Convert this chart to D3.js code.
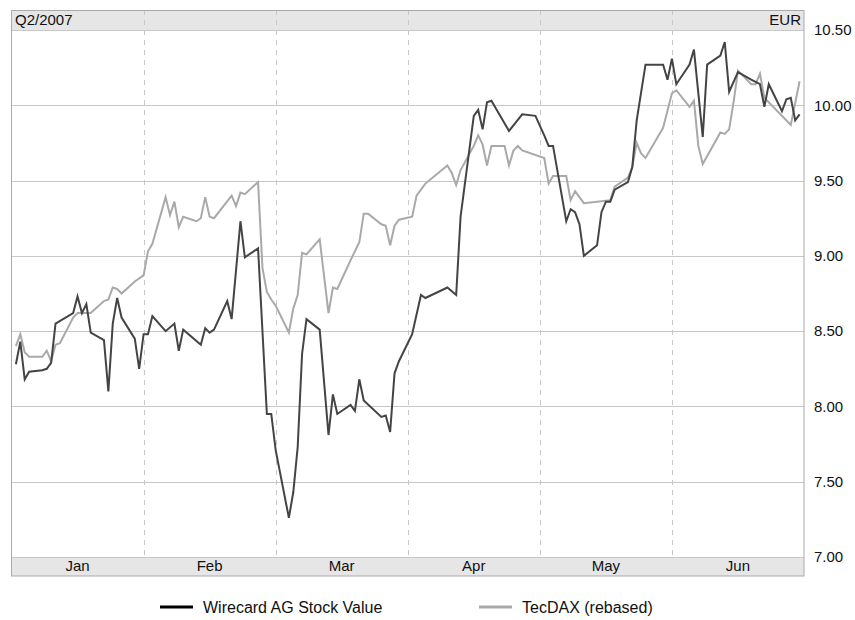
<!DOCTYPE html>
<html>
<head>
<meta charset="utf-8">
<script src="https://cdn.jsdelivr.net/npm/d3@7"></script>
<style>
  body { margin: 0; background: #fff; }
  svg { font-family: "Liberation Sans", Arial, sans-serif; }
</style>
</head>
<body>
<svg id="chart" width="855" height="620"></svg>
<script>
"use strict";

// month bands along the bottom
var months = ["Jan", "Feb", "Mar", "Apr", "May", "Jun"];
var yTicks = [7.0, 7.5, 8.0, 8.5, 9.0, 9.5, 10.0, 10.5];

// Wirecard AG (EUR)
var wirecardDates = ["01-02","01-03","01-04","01-05","01-08","01-09","01-10","01-11","01-15","01-16",
  "01-17","01-18","01-19","01-22","01-23","01-24","01-25","01-26","01-29","01-30","01-31",
  "02-01","02-02","02-05","02-07","02-08","02-09","02-13","02-14","02-15","02-16","02-19","02-20",
  "02-22","02-23","02-26","02-28","03-01","03-02","03-05","03-06","03-07","03-08","03-09","03-12",
  "03-14","03-15","03-16","03-19","03-20","03-21","03-22","03-26","03-27","03-28","03-29","03-30",
  "04-02","04-04","04-05","04-10","04-12","04-13","04-16","04-17","04-18","04-19","04-20","04-24",
  "04-27","04-30","05-02","05-03","05-04","05-07","05-08","05-09","05-10","05-11","05-14","05-15",
  "05-16","05-17","05-18","05-21","05-22","05-23","05-25","05-29","05-30","05-31","06-01","06-04",
  "06-05","06-07","06-08","06-11","06-12","06-13","06-15","06-18","06-20","06-21","06-22","06-25",
  "06-26","06-27","06-28","06-29"];
var wirecardValues = [8.28,8.43,8.18,8.23,8.24,8.25,8.29,8.55,8.62,8.73,
  8.62,8.68,8.49,8.44,8.10,8.55,8.72,8.59,8.45,8.25,8.48,
  8.48,8.60,8.50,8.55,8.37,8.51,8.41,8.52,8.49,8.51,8.70,8.58,
  9.23,8.99,9.05,7.95,7.95,7.71,7.26,7.43,7.73,8.35,8.58,8.51,
  7.81,8.08,7.95,8.01,7.97,8.18,8.04,7.93,7.94,7.83,8.22,8.30,
  8.48,8.74,8.72,8.79,8.74,9.26,9.93,9.97,9.84,10.02,10.03,9.83,
  9.94,9.93,9.80,9.73,9.73,9.23,9.31,9.29,9.21,9.00,9.07,9.29,
  9.36,9.36,9.44,9.49,9.59,9.90,10.27,10.27,10.17,10.31,10.14,10.27,
  10.37,9.79,10.27,10.33,10.42,10.09,10.22,10.17,10.14,9.99,10.14,9.96,
  10.04,10.05,9.90,9.94];

// TecDAX rebased to the Wirecard price
var tecdaxDates = ["01-02","01-03","01-04","01-05","01-08","01-09","01-10","01-11","01-12","01-15",
  "01-16","01-17","01-19","01-22","01-23","01-24","01-25","01-26","01-29","01-31",
  "02-01","02-02","02-05","02-06","02-07","02-08","02-09","02-12","02-13","02-14","02-15","02-16",
  "02-20","02-21","02-22","02-23","02-26","02-27","02-28","03-01","03-02","03-05","03-06","03-07",
  "03-08","03-09","03-12","03-14","03-15","03-16","03-19","03-21","03-22","03-23","03-26","03-27",
  "03-28","03-29","03-30","04-02","04-03","04-05","04-10","04-11","04-12","04-13","04-16","04-17",
  "04-18","04-19","04-20","04-23","04-24","04-25","04-26","04-27","05-02","05-03","05-04","05-07",
  "05-08","05-09","05-11","05-14","05-17","05-18","05-21","05-22","05-23","05-24","05-25","05-29",
  "05-31","06-01","06-04","06-05","06-06","06-07","06-11","06-12","06-13","06-14","06-15","06-18",
  "06-19","06-20","06-21","06-27","06-29"];
var tecdaxValues = [8.40,8.48,8.36,8.33,8.33,8.37,8.30,8.41,8.42,8.59,
  8.62,8.62,8.62,8.70,8.71,8.79,8.78,8.75,8.83,8.87,
  9.03,9.08,9.39,9.27,9.36,9.19,9.26,9.23,9.25,9.39,9.26,9.25,
  9.40,9.33,9.42,9.41,9.49,8.92,8.76,8.71,8.67,8.49,8.65,8.74,
  9.02,9.01,9.11,8.62,8.79,8.78,8.97,9.09,9.28,9.28,9.21,9.20,
  9.07,9.20,9.24,9.26,9.40,9.48,9.60,9.55,9.47,9.57,9.73,9.80,
  9.74,9.60,9.73,9.73,9.60,9.70,9.73,9.70,9.65,9.48,9.53,9.53,
  9.37,9.43,9.35,9.36,9.37,9.46,9.52,9.59,9.75,9.68,9.65,9.85,
  10.08,10.10,9.99,10.03,9.73,9.61,9.82,9.81,9.84,10.02,10.23,10.14,
  10.14,10.21,10.05,9.87,10.16];

var seriesNames = ["Wirecard AG Stock Value", "TecDAX (rebased)"];
var seriesColors = ["#444444", "#a9a9a9"];
var legendColors = ["#000000", "#a9a9a9"];

function drawChart() {
  var parseDate = d3.timeParse("%Y-%m-%d");
  function toPoints(dates, values) {
    return dates.map(function (d, i) {
      return { date: parseDate("2007-" + d), value: values[i] };
    });
  }
  var wirecard = toPoints(wirecardDates, wirecardValues);
  var tecdax = toPoints(tecdaxDates, tecdaxValues);

  var left = 11.5, right = 804, frameTop = 10, headBottom = 30, plotBottom = 557, frameBottom = 576;

  var svg = d3.select("#chart");

  var x = d3.scaleTime()
    .domain([parseDate("2007-01-01"), parseDate("2007-06-30")])
    .range([left, right]);
  var y = d3.scaleLinear().domain([7, 10.5]).range([plotBottom, headBottom]);
  var monthBand = d3.scaleBand().domain(months).range([left, right]);

  // header and footer bands
  svg.append("rect")
    .attr("x", left).attr("y", frameTop)
    .attr("width", right - left).attr("height", headBottom - frameTop)
    .style("fill", "#e6e6e6");
  svg.append("rect")
    .attr("x", left).attr("y", plotBottom)
    .attr("width", right - left).attr("height", frameBottom - plotBottom)
    .style("fill", "#e6e6e6");

  // horizontal grid
  svg.append("g").selectAll("line")
    .data(yTicks)
    .enter().append("line")
    .attr("x1", left).attr("x2", right)
    .attr("y1", function (d) { return Math.round(y(d)) + 0.5; })
    .attr("y2", function (d) { return Math.round(y(d)) + 0.5; })
    .style("stroke", "#c8c8c8")
    .style("stroke-width", 1);

  // dashed month separators
  svg.append("g").selectAll("line")
    .data(months.slice(1))
    .enter().append("line")
    .attr("x1", function (d) { return Math.round(monthBand(d)) + 0.5; })
    .attr("x2", function (d) { return Math.round(monthBand(d)) + 0.5; })
    .attr("y1", frameTop).attr("y2", plotBottom)
    .style("stroke", "#c8c8c8")
    .style("stroke-dasharray", "5,5")
    .style("stroke-width", 1);

  // outer frame
  svg.append("rect")
    .attr("x", left).attr("y", frameTop + 0.5)
    .attr("width", right - left).attr("height", frameBottom - frameTop - 0.5)
    .style("fill", "none")
    .style("stroke", "#aaaaaa")
    .style("stroke-width", 1);

  svg.append("text")
    .text("Q2/2007")
    .attr("x", 15).attr("y", 25)
    .style("font-size", "15px")
    .style("fill", "#111");
  svg.append("text")
    .text("EUR")
    .attr("x", 801).attr("y", 25)
    .attr("text-anchor", "end")
    .style("font-size", "15px")
    .style("fill", "#111");

  // lines
  var line = d3.line()
    .x(function (d) { return x(d.date); })
    .y(function (d) { return y(d.value); });

  svg.append("path")
    .datum(tecdax)
    .attr("d", line)
    .style("fill", "none")
    .style("stroke", seriesColors[1])
    .style("stroke-width", 2);
  svg.append("path")
    .datum(wirecard)
    .attr("d", line)
    .style("fill", "none")
    .style("stroke", seriesColors[0])
    .style("stroke-width", 2);

  // right value axis
  var yAxis = d3.axisRight(y)
    .tickValues(yTicks)
    .tickFormat(d3.format(".2f"))
    .tickSize(0)
    .tickPadding(10);
  var yAxisG = svg.append("g")
    .attr("transform", "translate(" + right + ",0)")
    .call(yAxis);
  yAxisG.select(".domain").remove();
  yAxisG.selectAll("text")
    .style("font-size", "15px")
    .style("font-family", "Liberation Sans, Arial, sans-serif")
    .style("fill", "#111");

  // month labels
  var xAxis = d3.axisBottom(monthBand).tickSize(0).tickPadding(0);
  var xAxisG = svg.append("g")
    .attr("transform", "translate(0," + (plotBottom + 3) + ")")
    .call(xAxis);
  xAxisG.select(".domain").remove();
  xAxisG.selectAll("text")
    .style("font-size", "15px")
    .style("font-family", "Liberation Sans, Arial, sans-serif")
    .style("fill", "#111");

  // legend
  var legendX = [160, 479];
  seriesNames.forEach(function (name, i) {
    var g = svg.append("g").attr("transform", "translate(" + legendX[i] + ",607)");
    g.append("line")
      .attr("x1", 0).attr("x2", 33)
      .attr("y1", 0).attr("y2", 0)
      .style("stroke", legendColors[i])
      .style("stroke-width", 3);
    g.append("text")
      .text(name)
      .attr("x", 43).attr("y", 5.5)
      .style("font-size", "16px")
      .style("fill", "#111");
  });
}

drawChart();
</script>
</body>
</html>
